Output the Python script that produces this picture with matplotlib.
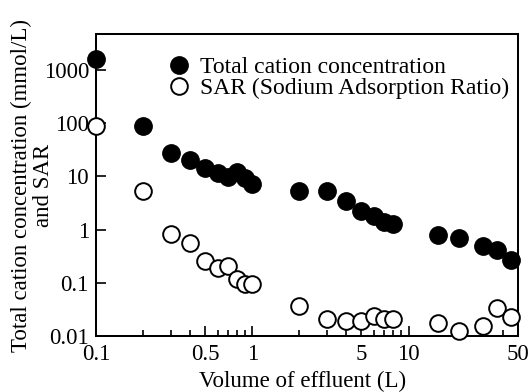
import numpy as np
import matplotlib
matplotlib.use("Agg")
import matplotlib.pyplot as plt
from matplotlib.ticker import FixedLocator, FixedFormatter, NullLocator

plt.rcParams['font.family'] = ['Liberation Serif', 'DejaVu Serif']

## Data
volume = [0.1, 0.2, 0.3, 0.4, 0.5, 0.6, 0.7, 0.8, 0.9, 1.0,
          2, 3, 4, 5, 6, 7, 8, 15.5, 21, 30, 37, 45]
total_cation = [1600, 90, 27.5, 20, 14.6, 11.3, 9.7, 12.1, 9.2, 7.3,
                5.3, 5.3, 3.45, 2.24, 1.78, 1.40, 1.26, 0.79, 0.68, 0.49, 0.41, 0.27]
sar = [90, 5.3, 0.81, 0.57, 0.26, 0.19, 0.21, 0.12, 0.095, 0.095,
       0.0365, 0.0208, 0.0191, 0.0195, 0.0237, 0.021, 0.021, 0.0178, 0.0126, 0.0156, 0.033, 0.023]

x_ticks = [0.1, 0.5, 1, 5, 10, 50]
x_ticklabels = ['0.1', '0.5', '1', '5', '10', '50']
y_ticks = [0.01, 0.1, 1, 10, 100, 1000]
y_ticklabels = ['0.01', '0.1', '1', '10', '100', '1000']

FS = 16.5

fig = plt.figure(figsize=(5.3, 3.92), dpi=100)
ax = fig.add_axes([0.181, 0.143, 0.796, 0.770])

ax.plot(volume, total_cation, 'o', color='black', markersize=12.5,
        markeredgewidth=1.0, clip_on=False, zorder=3, label='Total cation concentration')
ax.plot(volume, sar, 'o', markerfacecolor='white', markeredgecolor='black', markersize=12,
        markeredgewidth=1.4, clip_on=False, zorder=3, label='SAR (Sodium Adsorption Ratio)')

ax.set_xscale('log')
ax.set_yscale('log')
ax.set_xlim(0.1, 50)
ax.set_ylim(0.01, 4700)

ax.xaxis.set_major_locator(FixedLocator(x_ticks))
ax.xaxis.set_major_formatter(FixedFormatter(x_ticklabels))
minor_x = [v * d for d in [0.1, 1, 10] for v in range(2, 10) if v != 5 and v * d < 50]
ax.xaxis.set_minor_locator(FixedLocator(minor_x))
ax.yaxis.set_major_locator(FixedLocator(y_ticks))
ax.yaxis.set_major_formatter(FixedFormatter(y_ticklabels))
ax.yaxis.set_minor_locator(NullLocator())

ax.tick_params(which='both', direction='in', top=False, right=False, labelsize=FS, width=1.2)
ax.tick_params(which='major', length=7.2)
ax.tick_params(which='minor', length=4.3)
ax.tick_params(axis='y', pad=5)
ax.tick_params(axis='x', pad=6)
for s in ax.spines.values():
    s.set_linewidth(1.45)

ax.set_xlabel('Volume of effluent (L)', fontsize=FS)
ax.xaxis.set_label_coords(0.49, -0.116)
## two-line y label: first line as the axis label, second line as its own text
ax.set_ylabel('Total cation concentration (mmol/L)', fontsize=FS)
ax.yaxis.set_label_coords(-0.152, 0.5)
ax.text(-0.1, 0.5, 'and SAR', transform=ax.transAxes, rotation=90,
        ha='right', va='center', fontsize=FS)

ax.legend(loc='upper left', bbox_to_anchor=(0.171, 0.926), frameon=False, fontsize=17,
          handletextpad=0.4, labelspacing=0.0, borderpad=0, borderaxespad=0,
          handlelength=0.95)

fig.savefig('out.png', dpi=100)
